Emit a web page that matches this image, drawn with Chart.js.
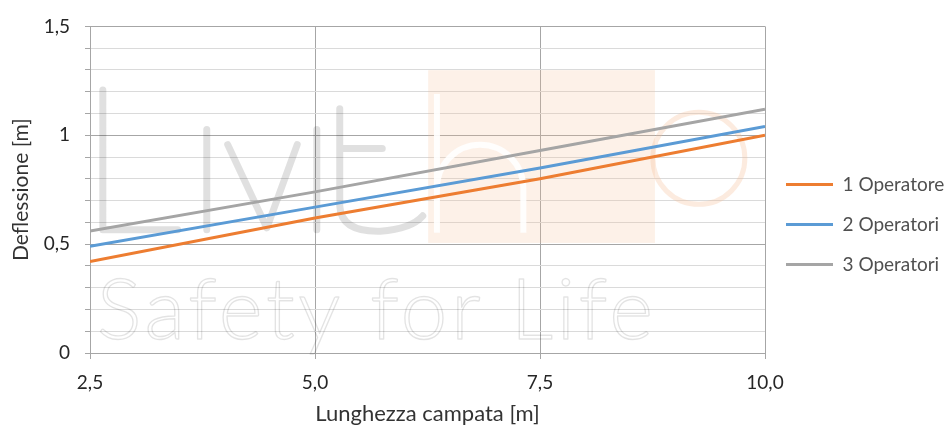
<!DOCTYPE html>
<html>
<head>
<meta charset="utf-8">
<script src="https://cdn.jsdelivr.net/npm/chart.js@4.4.1/dist/chart.umd.min.js"></script>
<style>
  html, body { margin: 0; padding: 0; background: #fff; }
</style>
</head>
<body>
<canvas id="chart" width="952" height="430"></canvas>
<script>
// values
const spanLengths = [2.5, 5.0, 7.5, 10.0];
const oneOperator = [0.42, 0.62, 0.80, 1.00];
const twoOperators = [0.49, 0.67, 0.85, 1.04];
const threeOperators = [0.56, 0.74, 0.93, 1.12];
const seriesNames = ['1 Operatore', '2 Operatori', '3 Operatori'];
const seriesColors = ['#ED7D31', '#5B9BD5', '#A5A5A5'];
const xTicks = [2.5, 5.0, 7.5, 10.0];
const yMajorTicks = [0, 0.5, 1, 1.5];

const isMajor = v => yMajorTicks.some(m => Math.abs(m - v) < 1e-6);
const comma = s => String(s).replace('.', ',');

Chart.defaults.font.family = 'Lato';
Chart.defaults.font.size = 19;
Chart.defaults.color = '#262626';

// faint company logo behind the lines (drawn relative to the plot area)
const watermark = {
    id: 'watermark',
    beforeDatasetsDraw(chart) {
        const { ctx, chartArea: a } = chart;
        const w = a.right - a.left, h = a.bottom - a.top;
        const X = f => a.left + f * w;
        const Y = f => a.top + f * h;

        ctx.save();
        ctx.lineCap = 'round';
        ctx.lineJoin = 'round';

        // "Livit" strokes
        ctx.strokeStyle = 'rgba(0, 0, 0, 0.12)';
        ctx.lineWidth = 7;
        ctx.beginPath();
        ctx.moveTo(X(0.019), Y(0.195)); ctx.lineTo(X(0.019), Y(0.623)); ctx.lineTo(X(0.130), Y(0.623));
        ctx.moveTo(X(0.173), Y(0.316)); ctx.lineTo(X(0.173), Y(0.623));
        ctx.moveTo(X(0.204), Y(0.362)); ctx.lineTo(X(0.262), Y(0.617)); ctx.lineTo(X(0.307), Y(0.362));
        ctx.moveTo(X(0.336), Y(0.316)); ctx.lineTo(X(0.336), Y(0.623));
        ctx.moveTo(X(0.370), Y(0.252)); ctx.lineTo(X(0.370), Y(0.55));
        ctx.quadraticCurveTo(X(0.372), Y(0.63), X(0.43), Y(0.627));
        ctx.quadraticCurveTo(X(0.476), Y(0.62), X(0.493), Y(0.58));
        ctx.moveTo(X(0.370), Y(0.374)); ctx.lineTo(X(0.433), Y(0.374));
        ctx.stroke();

        // peach block with a white "h"
        ctx.fillStyle = 'rgba(246, 190, 150, 0.22)';
        ctx.fillRect(X(0.501), Y(0.134), X(0.837) - X(0.501), Y(0.663) - Y(0.134));
        ctx.strokeStyle = 'rgba(255, 255, 255, 0.9)';
        ctx.lineWidth = 6;
        ctx.lineCap = 'butt';
        const cx = X(0.578), cy = Y(0.495), r = X(0.578) - X(0.514);
        ctx.beginPath();
        ctx.moveTo(X(0.514), Y(0.207));
        ctx.lineTo(X(0.514), Y(0.632));
        ctx.moveTo(cx - r, cy);
        ctx.arc(cx, cy, r, Math.PI, 0);
        ctx.lineTo(cx + r, Y(0.632));
        ctx.stroke();

        // "o"
        ctx.strokeStyle = 'rgba(246, 190, 150, 0.3)';
        ctx.lineWidth = 5;
        ctx.beginPath();
        ctx.arc(X(0.902), Y(0.404), 46, 0, Math.PI * 2);
        ctx.stroke();

        // "Safety for Life"
        ctx.textBaseline = 'alphabetic';
        ctx.textAlign = 'left';
        ctx.font = '300 84px Lato';
        const text = 'Safety for Life';
        const target = X(0.834) - X(0.010);
        if ('letterSpacing' in ctx) {
            ctx.letterSpacing = '0px';
            const w0 = ctx.measureText(text).width;
            ctx.letterSpacing = ((target - w0) / (text.length - 1)) + 'px';
        }
        ctx.strokeStyle = 'rgba(0, 0, 0, 0.11)';
        ctx.lineWidth = 1.4;
        ctx.strokeText(text, X(0.010), Y(0.957));
        ctx.restore();
    }
};

// fixed legend column width so the plot keeps its place
const legendWidth = {
    id: 'legendWidth',
    beforeLayout(chart) {
        const lg = chart.legend;
        if (lg && !lg._fixed) {
            const fit = lg.fit.bind(lg);
            lg.fit = function () { fit(); this.width = 187; };
            lg._fixed = true;
        }
    }
};

const series = [oneOperator, twoOperators, threeOperators];

new Chart(document.getElementById('chart'), {
    type: 'line',
    data: {
        datasets: series.map((vals, i) => ({
            label: seriesNames[i],
            data: spanLengths.map((x, j) => ({ x: x, y: vals[j] })),
            borderColor: seriesColors[i],
            backgroundColor: seriesColors[i],
            borderWidth: 3,
            pointRadius: 0,
            tension: 0,
            fill: false
        }))
    },
    options: {
        responsive: false,
        animation: false,
        layout: { padding: { top: 24, left: 0, right: 0, bottom: 0 } },
        plugins: {
            tooltip: { enabled: false },
            legend: {
                position: 'right',
                align: 'start',
                title: { display: true, text: ' ', font: { size: 10, lineHeight: 1 }, padding: { top: 60, bottom: 60 } },
                labels: {
                    boxWidth: 47,
                    boxHeight: 3,
                    padding: 21,
                    color: '#505050',
                    font: { size: 19 },
                    generateLabels: chart => chart.data.datasets.map((ds, i) => ({
                        text: ds.label,
                        fillStyle: ds.borderColor,
                        strokeStyle: ds.borderColor,
                        lineWidth: 0,
                        hidden: false,
                        datasetIndex: i,
                        fontColor: '#505050'
                    }))
                }
            }
        },
        scales: {
            x: {
                type: 'linear',
                min: 2.5,
                max: 10,
                afterBuildTicks: s => { s.ticks = xTicks.map(v => ({ value: v })); },
                afterFit: s => { s.height = 77; },
                ticks: {
                    padding: 12,
                    color: '#262626',
                    font: { size: 19 },
                    callback: v => comma(Number(v).toFixed(1))
                },
                grid: { color: '#a6a6a6', tickColor: '#a6a6a6', tickLength: 6 },
                border: { color: '#a6a6a6' },
                title: {
                    display: true,
                    text: 'Lunghezza campata [m]',
                    color: '#333333',
                    font: { size: 22 },
                    padding: { top: 0, bottom: 3 }
                }
            },
            y: {
                min: 0,
                max: 1.5,
                afterFit: s => { s.width = 90; },
                ticks: {
                    stepSize: 0.1,
                    autoSkip: false,
                    padding: 15,
                    color: '#262626',
                    font: { size: 19 },
                    callback: v => isMajor(v) ? comma(+Number(v).toFixed(1)) : ''
                },
                grid: {
                    color: c => isMajor(c.tick.value) ? '#a6a6a6' : '#dadada',
                    tickColor: '#a6a6a6',
                    tickLength: 5
                },
                border: { color: '#a6a6a6' },
                title: {
                    display: true,
                    text: 'Deflessione [m]',
                    color: '#333333',
                    font: { size: 21 },
                    padding: { top: 9, bottom: 0 }
                }
            }
        }
    },
    plugins: [watermark, legendWidth]
});
</script>
</body>
</html>
